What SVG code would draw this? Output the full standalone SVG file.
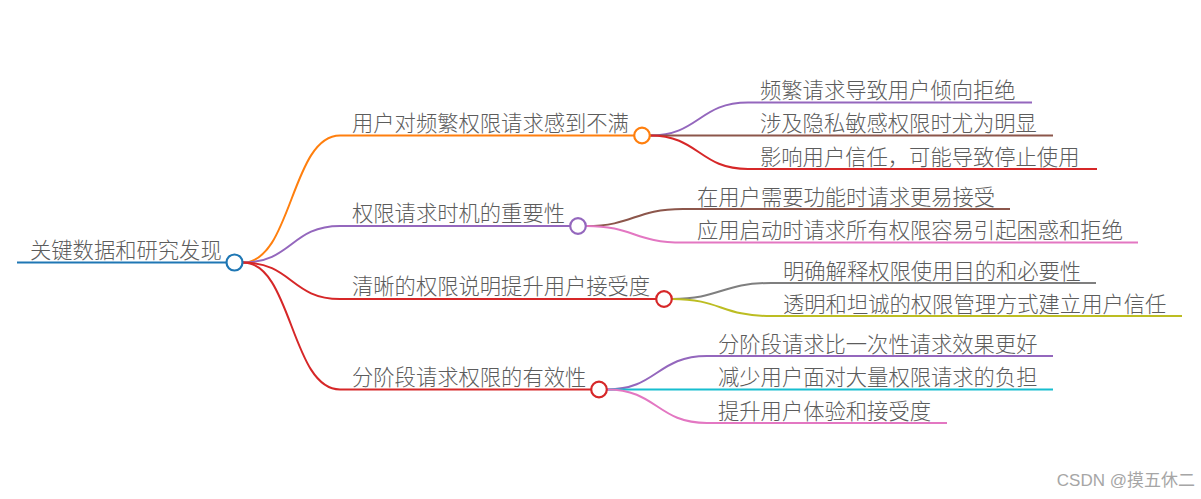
<svg xmlns="http://www.w3.org/2000/svg" width="1201" height="499" viewBox="0 0 1201 499">
<style>
text{font-family:"Noto Sans CJK SC","Noto Sans",sans-serif;font-size:21.3px;font-weight:300;fill:#5c5c5c}
.c{fill:none;stroke-width:2;stroke-linecap:butt}
.n{fill:#fff;stroke-width:2.2}
.wm{font-family:"Liberation Sans","Noto Sans CJK SC",sans-serif;font-size:17px;font-weight:400;fill:#a6a6a6}
</style>
<rect width="1201" height="499" fill="#fff"/>
<g id="connectors">
<path class="c" stroke="#1f77b4" stroke-width="3" d="M17,262.5H227"/>
<path class="c" stroke="#ff7f0e" d="M243,262.5C292,262.5 291,135.5 340,135.5H634"/>
<path class="c" stroke="#9467bd" d="M243,262.5C292,262.5 291,226 340,226H570"/>
<path class="c" stroke="#d62728" d="M243,262.5C292,262.5 291,299 340,299H656"/>
<path class="c" stroke="#d62728" d="M243,262.5C292,262.5 291,389.5 340,389.5H591"/>
<path class="c" stroke="#9467bd" d="M650,135.5C699,135.5 699,102.5 748,102.5H1032"/>
<path class="c" stroke="#8c564b" d="M650,135.5H1053"/>
<path class="c" stroke="#d62728" d="M650,135.5C699,135.5 699,169 748,169H1097"/>
<path class="c" stroke="#8c564b" d="M586,226C634,226 634,209 683,209H1010"/>
<path class="c" stroke="#e377c2" d="M586,226C634,226 634,242.5 683,242.5H1138"/>
<path class="c" stroke="#7f7f7f" d="M672,299C721,299 721,283 771,283H1096"/>
<path class="c" stroke="#bcbd22" d="M672,299C721,299 721,316 771,316H1182"/>
<path class="c" stroke="#9467bd" d="M607,389.5C657,389.5 657,356 707,356H1053"/>
<path class="c" stroke="#17becf" d="M607,389.5H1053"/>
<path class="c" stroke="#e377c2" d="M607,389.5C657,389.5 657,423 707,423H947"/>
</g>
<g id="root"><text x="30" y="258">关键数据和研究发现</text><circle class="n" stroke="#1f77b4" stroke-width="2.5" cx="234.5" cy="262.5" r="8"/></g>
<g id="b1"><text x="352" y="130.5">用户对频繁权限请求感到不满</text><circle class="n" stroke="#ff7f0e" cx="642" cy="135.5" r="7.8"/></g>
<g id="b2"><text x="352" y="221">权限请求时机的重要性</text><circle class="n" stroke="#9467bd" cx="578" cy="226" r="7.8"/></g>
<g id="b3"><text x="352" y="294">清晰的权限说明提升用户接受度</text><circle class="n" stroke="#d62728" cx="664" cy="299" r="7.8"/></g>
<g id="b4"><text x="352" y="384.5">分阶段请求权限的有效性</text><circle class="n" stroke="#d62728" cx="599" cy="389.5" r="7.8"/></g>
<g id="b1c1"><text x="760" y="98">频繁请求导致用户倾向拒绝</text></g>
<g id="b1c2"><text x="760" y="131">涉及隐私敏感权限时尤为明显</text></g>
<g id="b1c3"><text x="760" y="164.5">影响用户信任，可能导致停止使用</text></g>
<g id="b2c1"><text x="697" y="204.5">在用户需要功能时请求更易接受</text></g>
<g id="b2c2"><text x="697" y="238">应用启动时请求所有权限容易引起困惑和拒绝</text></g>
<g id="b3c1"><text x="783" y="278.5">明确解释权限使用目的和必要性</text></g>
<g id="b3c2"><text x="783" y="311.5">透明和坦诚的权限管理方式建立用户信任</text></g>
<g id="b4c1"><text x="718" y="351.5">分阶段请求比一次性请求效果更好</text></g>
<g id="b4c2"><text x="718" y="385">减少用户面对大量权限请求的负担</text></g>
<g id="b4c3"><text x="718" y="418.5">提升用户体验和接受度</text></g>
<text class="wm" x="1195" y="486" text-anchor="end">CSDN @摸五休二</text>
</svg>
